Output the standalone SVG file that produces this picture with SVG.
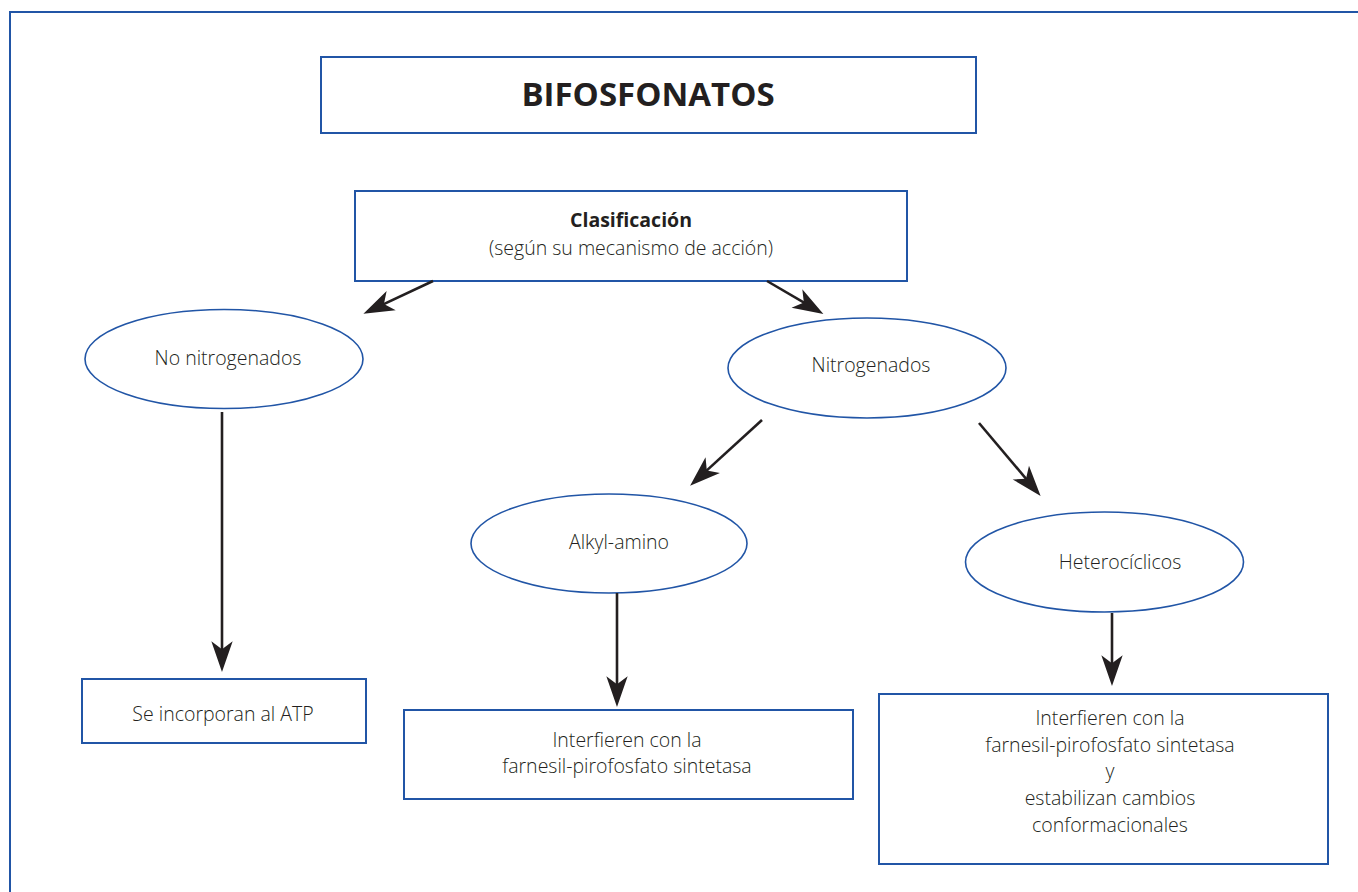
<svg xmlns="http://www.w3.org/2000/svg" width="1358" height="892" viewBox="0 0 1358 892">
<style>
.box{fill:#fff;stroke:#2155a6;stroke-width:2}
.ell{fill:#fff;stroke:#2155a6;stroke-width:1.6}
.frame{fill:#fff;stroke:#2155a6;stroke-width:2}
.t{font-family:"Open Sans","Noto Sans",sans-serif;font-size:19.5px;font-weight:300;fill:#231f20;text-anchor:middle}
.b{font-weight:bold}
.conn line{stroke:#231f20;stroke-width:2.6;marker-end:url(#ah)}
</style>
<defs>
<marker id="ah" markerUnits="userSpaceOnUse" markerWidth="40" markerHeight="40" viewBox="-15 -10 30 20" refX="0" refY="0" orient="auto">
<path d="M12,0 L-11,-8 L-5,0 L-11,8 Z" fill="#231f20"/>
</marker>
</defs>
<rect class="frame" x="10" y="12" width="1400" height="900"/>
<g id="title"><rect class="box" x="321" y="57" width="655" height="76"/><text class="t b" x="648" y="106" style="font-size:33px">BIFOSFONATOS</text></g>
<g id="clasificacion"><rect class="box" x="355" y="191" width="552" height="90"/><text class="t b" x="631" y="227">Clasificación</text><text class="t" x="631" y="255">(según su mecanismo de acción)</text></g>
<g id="no-nitrogenados"><ellipse class="ell" cx="224" cy="359" rx="139" ry="49.5"/><text class="t" x="228" y="365">No nitrogenados</text></g>
<g id="nitrogenados"><ellipse class="ell" cx="867" cy="368" rx="139" ry="50"/><text class="t" x="871" y="372">Nitrogenados</text></g>
<g id="alkyl-amino"><ellipse class="ell" cx="609" cy="543.5" rx="138" ry="49.5"/><text class="t" x="619" y="549">Alkyl-amino</text></g>
<g id="heterociclicos"><ellipse class="ell" cx="1104.5" cy="562" rx="139" ry="50"/><text class="t" x="1120" y="569">Heterocíclicos</text></g>
<g id="atp"><rect class="box" x="82" y="679" width="284" height="64"/><text class="t" x="223" y="721">Se incorporan al ATP</text></g>
<g id="alkyl-box"><rect class="box" x="404" y="710" width="449" height="89"/><text class="t" x="627" y="747">Interfieren con la</text><text class="t" x="627" y="773">farnesil-pirofosfato sintetasa</text></g>
<g id="hetero-box"><rect class="box" x="879" y="694" width="449" height="170"/><text class="t" x="1110" y="725">Interfieren con la</text><text class="t" x="1110" y="752">farnesil-pirofosfato sintetasa</text><text class="t" x="1110" y="778">y</text><text class="t" x="1110" y="805">estabilizan cambios</text><text class="t" x="1110" y="832">conformacionales</text></g>
<g id="connectors" class="conn">
<line x1="433" y1="281" x2="377.9" y2="306.9"/>
<line x1="767" y1="281" x2="809.6" y2="305.9"/>
<line x1="222" y1="412" x2="222" y2="656"/>
<line x1="762" y1="420" x2="701.9" y2="474.9"/>
<line x1="979" y1="423" x2="1030.3" y2="483.8"/>
<line x1="617" y1="593" x2="617" y2="691"/>
<line x1="1112" y1="613" x2="1112" y2="670"/>
</g>
</svg>
